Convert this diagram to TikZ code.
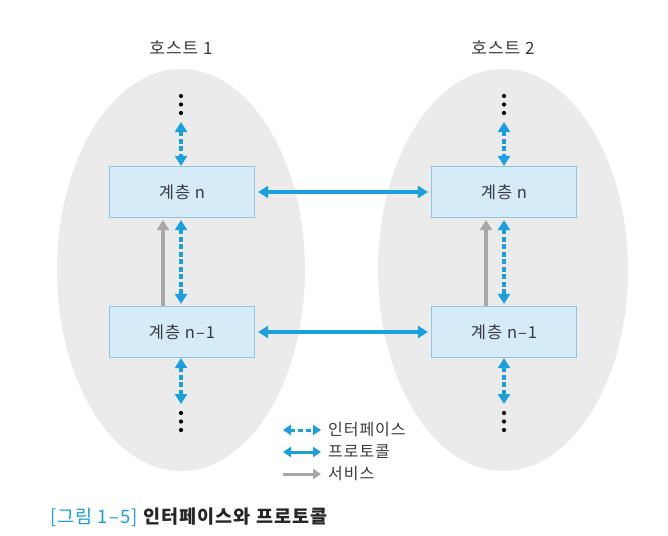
\documentclass[tikz,border=0pt]{standalone}
\usepackage{fontspec}
\setmainfont{Noto Sans CJK KR}[LetterSpace=6]
\usetikzlibrary{arrows.meta}
\definecolor{ellfill}{HTML}{EBEBEB}
\definecolor{boxfill}{HTML}{D5EBF8}
\definecolor{boxdraw}{HTML}{8CC6E4}
\definecolor{arrblue}{HTML}{1AA0DE}
\definecolor{arrgray}{HTML}{A8A8A8}
\definecolor{txt}{HTML}{3A3A3A}
\tikzset{
  x=1pt,y=-1pt,
  ell/.style={fill=ellfill,draw=none},
  layer/.style={draw=boxdraw,fill=boxfill,line width=1.2pt,minimum width=145pt,minimum height=51pt,inner sep=0pt,font=\fontsize{16.5}{18}\selectfont,text=txt},
  proto/.style={draw=arrblue,line width=3.6pt,{Triangle[length=10pt,width=12pt]}-{Triangle[length=10pt,width=12pt]}},
  iface/.style={proto,dash pattern=on 5pt off 2.5pt},
  serv/.style={draw=arrgray,line width=3.6pt,-{Triangle[length=10pt,width=12pt]}},
  lbl/.style={font=\fontsize{17}{19}\selectfont,text=txt,inner sep=0pt},
  leg/.style={font=\fontsize{16}{18}\selectfont,text=txt,anchor=west,inner sep=0pt},
}
\begin{document}
\begin{tikzpicture}
\useasboundingbox (0,0) rectangle (668,535);
% ellipses
\fill[ell] (181,270) ellipse [x radius=124, y radius=201];
\fill[ell] (503,270) ellipse [x radius=125, y radius=201];
% titles
\node[lbl] (t1) at (181,48) {호스트 1};
\node[lbl] (t2) at (503,48) {호스트 2};
% boxes
\node[layer] (ln) at (182,192) {계층 n};
\node[layer] (ln1) at (182,332) {계층 n–1};
\node[layer] (rn) at (504,192) {계층 n};
\node[layer] (rn1) at (504,332) {계층 n–1};
% dots
\foreach \nm/\xx/\yy in {d1/181/96, d2/181/413, d3/504/96, d4/504/413}{
  \coordinate (\nm) at (\xx,\yy);
  \fill (\xx,\yy) circle (2.1pt);
  \fill (\xx,\yy+8.5) circle (2.1pt);
  \fill (\xx,\yy+17) circle (2.1pt);
}
\coordinate (d1e) at (181,122);
\coordinate (d2e) at (181,404);
\coordinate (d3e) at (504,122);
\coordinate (d4e) at (504,404);
% interfaces
\draw[iface] (d1e) -- (ln.north -| d1e);
\draw[iface] (ln1.south -| d2e) -- (d2e);
\draw[iface] (d3e) -- (rn.north -| d3e);
\draw[iface] (rn1.south -| d4e) -- (d4e);
\draw[iface] ([xshift=-1pt,yshift=-2pt]ln.south) -- ([xshift=-1pt,yshift=2pt]ln1.north);
\draw[iface] ([yshift=-2pt]rn.south) -- ([yshift=2pt]rn1.north);
% services
\draw[serv] ([xshift=-19pt]ln1.north) -- ([xshift=-19pt,yshift=-2pt]ln.south);
\draw[serv] ([xshift=-18pt]rn1.north) -- ([xshift=-18pt,yshift=-2pt]rn.south);
% protocols
\draw[proto] ([xshift=3pt]ln.east) -- ([xshift=-3pt]rn.west);
\draw[proto] ([xshift=3pt]ln1.east) -- ([xshift=-3pt]rn1.west);
% legend
\coordinate (la1) at (283,430); \coordinate (lb1) at (321,430);
\coordinate (la2) at (283,452); \coordinate (lb2) at (321,452);
\coordinate (la3) at (283,474); \coordinate (lb3) at (321,474);
\draw[iface,line width=3pt,dash pattern=on 5pt off 3pt,dash phase=1pt,{Triangle[length=8pt,width=10pt]}-{Triangle[length=8pt,width=10pt]}] (la1) -- (lb1);
\draw[proto,line width=3pt,{Triangle[length=8pt,width=10pt]}-{Triangle[length=8pt,width=10pt]}] (la2) -- (lb2);
\draw[serv,line width=3pt,-{Triangle[length=8pt,width=10pt]}] (la3) -- (lb3);
\node[leg] (g1) at (328,430) {인터페이스};
\node[leg] (g2) at (328,452) {프로토콜};
\node[leg] (g3) at (328,474) {서비스};
% caption
\node[anchor=west,inner sep=0pt,font=\fontsize{18.5}{20}\selectfont] (cap) at (50,517) {\textcolor{arrblue}{[그림 1–5]} \textcolor{black!85}{\textbf{인터페이스와 프로토콜}}};
\end{tikzpicture}
\end{document}
